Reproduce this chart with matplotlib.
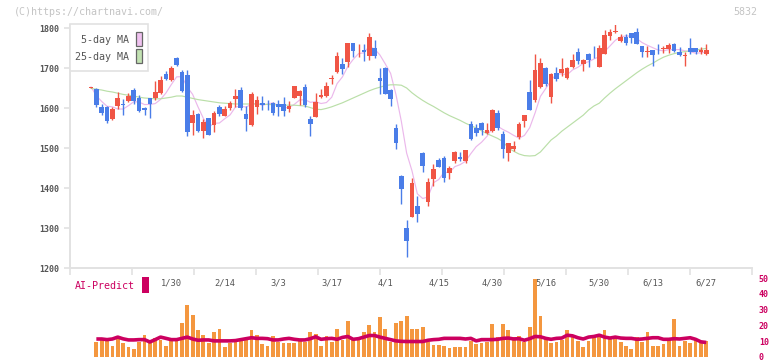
import numpy as np
import pandas as pd
import matplotlib
matplotlib.use("Agg")
import matplotlib.pyplot as plt
from matplotlib.patches import Rectangle
from matplotlib.transforms import blended_transform_factory

# daily candles, oldest first (price in yen)
opens = [1651, 1648, 1602, 1602, 1572, 1605, 1610, 1618, 1644, 1626,
         1601, 1624, 1624, 1638, 1685, 1670, 1724, 1690, 1683, 1563,
         1585, 1543, 1574, 1558, 1602, 1581, 1599, 1622, 1645, 1585,
         1557, 1603, 1613, 1616, 1612, 1610, 1610, 1598, 1625, 1631,
         1653, 1572, 1578, 1627, 1631, 1672, 1691, 1710, 1716, 1762,
         1744, 1746, 1730, 1750, 1676, 1701, 1645, 1550, 1430, 1301,
         1328, 1355, 1488, 1366, 1422, 1470, 1476, 1438, 1468, 1478,
         1468, 1560, 1550, 1562, 1538, 1543, 1587, 1535, 1488, 1498,
         1528, 1568, 1640, 1620, 1652, 1699, 1627, 1688, 1688, 1676,
         1703, 1740, 1710, 1735, 1735, 1703, 1735, 1781, 1790, 1767,
         1777, 1787, 1789, 1755, 1741, 1745, 1748, 1748, 1748, 1760,
         1741, 1730, 1749, 1749, 1739, 1734]
highs = [1653, 1650, 1610, 1604, 1602, 1640, 1623, 1637, 1651, 1632,
         1603, 1625, 1668, 1680, 1693, 1706, 1727, 1695, 1695, 1595,
         1587, 1573, 1576, 1593, 1607, 1606, 1617, 1647, 1653, 1605,
         1641, 1631, 1630, 1620, 1614, 1620, 1627, 1617, 1656, 1646,
         1660, 1581, 1637, 1647, 1666, 1682, 1741, 1726, 1763, 1763,
         1759, 1759, 1788, 1770, 1701, 1702, 1647, 1560, 1432, 1320,
         1424, 1380, 1489, 1424, 1460, 1475, 1480, 1456, 1492, 1490,
         1495, 1567, 1561, 1565, 1562, 1597, 1594, 1543, 1513, 1517,
         1565, 1583, 1670, 1735, 1724, 1702, 1688, 1702, 1724, 1703,
         1735, 1750, 1722, 1737, 1755, 1758, 1796, 1797, 1810, 1784,
         1785, 1788, 1799, 1756, 1755, 1746, 1760, 1756, 1762, 1763,
         1752, 1741, 1775, 1750, 1752, 1760]
lows = [1651, 1602, 1583, 1563, 1570, 1598, 1583, 1615, 1611, 1590,
        1582, 1576, 1620, 1634, 1670, 1668, 1704, 1640, 1530, 1532,
        1540, 1524, 1532, 1541, 1580, 1579, 1596, 1603, 1595, 1543,
        1555, 1585, 1595, 1595, 1583, 1581, 1581, 1591, 1624, 1607,
        1603, 1530, 1577, 1624, 1627, 1660, 1687, 1685, 1703, 1728,
        1728, 1717, 1720, 1724, 1635, 1634, 1605, 1497, 1360, 1228,
        1327, 1316, 1441, 1355, 1406, 1452, 1416, 1422, 1463, 1468,
        1462, 1520, 1529, 1532, 1535, 1541, 1544, 1476, 1468, 1493,
        1523, 1553, 1595, 1615, 1650, 1655, 1613, 1667, 1681, 1672,
        1700, 1709, 1693, 1703, 1724, 1702, 1734, 1770, 1787, 1766,
        1757, 1763, 1760, 1728, 1728, 1706, 1734, 1738, 1737, 1740,
        1730, 1705, 1734, 1734, 1734, 1733]
closes = [1653, 1608, 1588, 1568, 1598, 1625, 1608, 1630, 1618, 1593,
          1594, 1610, 1640, 1670, 1673, 1699, 1707, 1643, 1539, 1582,
          1543, 1564, 1533, 1587, 1585, 1597, 1612, 1631, 1599, 1572,
          1635, 1620, 1608, 1614, 1588, 1603, 1593, 1606, 1655, 1643,
          1607, 1560, 1614, 1632, 1655, 1674, 1730, 1698, 1762, 1743,
          1746, 1741, 1778, 1730, 1668, 1635, 1622, 1513, 1398, 1268,
          1413, 1335, 1455, 1416, 1447, 1453, 1426, 1451, 1490, 1472,
          1495, 1522, 1538, 1545, 1545, 1595, 1549, 1497, 1512, 1505,
          1560, 1582, 1595, 1695, 1713, 1659, 1685, 1672, 1698, 1701,
          1720, 1718, 1720, 1720, 1734, 1750, 1782, 1789, 1791, 1777,
          1763, 1776, 1761, 1741, 1743, 1733, 1747, 1750, 1757, 1743,
          1733, 1732, 1739, 1739, 1746, 1745]

# 25-day moving average as drawn on the chart
ma25 = [1649, 1647, 1645, 1642, 1640, 1637, 1634, 1632, 1630, 1627,
        1625, 1624, 1623, 1623, 1625, 1627, 1630, 1630, 1627, 1624,
        1621, 1619, 1617, 1615, 1613, 1612, 1611, 1610, 1610, 1610,
        1610, 1610, 1609, 1609, 1608, 1608, 1607, 1607, 1607, 1606,
        1605, 1601, 1597, 1596, 1599, 1603, 1608, 1613, 1619, 1625,
        1631, 1637, 1643, 1648, 1652, 1656, 1658, 1658, 1657, 1650,
        1638, 1628, 1619, 1611, 1604, 1596, 1588, 1581, 1575, 1569,
        1562, 1556, 1550, 1543, 1536, 1530, 1524, 1516, 1500, 1492,
        1485, 1481, 1480, 1481, 1490, 1505, 1520, 1530, 1542, 1552,
        1562, 1572, 1582, 1595, 1605, 1612, 1625, 1637, 1648, 1658,
        1668, 1678, 1688, 1697, 1705, 1712, 1720, 1727, 1732, 1736,
        1739, 1741, 1743, 1745, 1747, 1749]

# volume pane (first candle has no bar)
volume = [np.nan, 9.7, 10.8, 10.8, 7.0, 11.6, 8.9, 6.5, 5.1, 9.7,
          13.9, 9.7, 11.8, 10.8, 7.0, 11.8, 10.8, 21.7, 32.9, 26.6,
          17.1, 13.9, 9.1, 16.0, 17.7, 6.5, 8.6, 9.7, 10.8, 11.8,
          17.1, 13.9, 8.2, 7.0, 13.3, 9.7, 8.6, 9.1, 9.1, 10.8,
          9.7, 16.0, 14.6, 7.0, 13.3, 9.7, 17.7, 10.8, 22.8, 10.8,
          11.8, 16.0, 20.3, 16.0, 25.5, 17.7, 9.7, 21.3, 22.8, 25.9,
          17.7, 17.7, 19.2, 9.7, 7.6, 7.6, 7.0, 5.5, 6.1, 6.1,
          6.1, 10.3, 8.2, 9.1, 9.7, 20.9, 12.4, 20.9, 17.1, 12.4,
          13.3, 9.7, 18.8, 49.2, 25.9, 12.4, 9.1, 9.7, 10.8, 17.1,
          12.9, 10.3, 6.5, 10.3, 13.3, 14.0, 17.1, 12.4, 12.4, 9.7,
          7.0, 4.9, 12.9, 9.7, 16.0, 7.0, 7.0, 8.2, 10.8, 23.8,
          7.0, 10.3, 8.6, 10.8, 10.3, 10.1]
ai_predict = [np.nan, 11.4, 11.4, 11.0, 11.4, 12.6, 11.5, 10.8, 10.8, 11.0,
              11.0, 9.5, 11.0, 12.6, 11.8, 11.0, 11.0, 11.8, 12.6, 11.4,
              10.6, 10.8, 10.8, 10.2, 10.2, 10.2, 10.2, 10.4, 11.0, 11.6,
              12.2, 11.8, 11.8, 11.6, 10.8, 10.8, 11.4, 11.8, 11.2, 10.8,
              10.8, 11.6, 12.8, 11.2, 11.6, 11.8, 11.2, 12.4, 13.0, 11.2,
              11.6, 12.6, 13.6, 13.6, 12.6, 11.8, 11.0, 10.2, 9.9, 9.8,
              9.8, 9.8, 9.8, 10.6, 11.0, 11.2, 11.8, 11.8, 11.8, 11.8,
              11.4, 11.8, 10.2, 11.0, 11.0, 11.0, 11.2, 11.8, 12.0, 11.4,
              11.6, 10.6, 11.6, 13.0, 12.8, 11.8, 11.2, 11.8, 12.0, 13.8,
              13.4, 12.2, 11.4, 12.6, 13.0, 13.8, 12.6, 12.0, 12.6, 12.0,
              11.8, 11.8, 11.2, 11.4, 11.8, 12.2, 12.2, 11.2, 11.2, 11.6,
              11.4, 11.8, 12.2, 11.2, 9.6, 9.2]

date_labels = ["1/30", "2/14", "3/3", "3/17", "4/1", "4/15",
               "4/30", "5/16", "5/30", "6/13", "6/27"]
date_index = [15, 25, 35, 45, 55, 65, 75, 85, 95, 105, 115]

W, H = 772, 361
UP, DOWN = "#f05545", "#4a7de8"
GRID = "#e2e2e2"
MONO = "DejaVu Sans Mono"

fig = plt.figure(figsize=(W / 100, H / 100), dpi=100)


def px_axes(left, top, right, bottom):
    return fig.add_axes([left / W, 1 - bottom / H, (right - left) / W, (bottom - top) / H])


# pixel position of candle 0 is 91, one candle every 5.35 px
x0, x1 = (70 - 91) / 5.35, (752 - 91) / 5.35
idx = np.arange(len(closes))
o, h, l, c = map(np.array, (opens, highs, lows, closes))
colors = np.where(c >= o, UP, DOWN)

ax = px_axes(70, 25, 752, 268)
ax.vlines(idx, l, h, colors=colors, linewidth=1.0, zorder=3)
ax.bar(idx, np.maximum(np.abs(c - o), 1.5), bottom=np.minimum(o, c), width=0.86,
       color=colors, linewidth=0, zorder=4)

ma5 = pd.Series(closes).rolling(5, min_periods=1).mean()
ax.plot(idx, ma5, color="#ebb8eb", linewidth=0.85, zorder=2)
ax.plot(idx, ma25, color="#badfa8", linewidth=0.85, zorder=2)

ax.set_xlim(x0, x1)
ax.set_ylim(1200, 1807.5)
ax.set_yticks(range(1200, 1801, 100))
ax.set_xticks(np.linspace(x0, x1, 12))
ax.set_xticklabels([])
for side in ("top", "right"):
    ax.spines[side].set_visible(False)
for side in ("left", "bottom"):
    ax.spines[side].set_color(GRID)
    ax.spines[side].set_linewidth(1.4)
ax.tick_params(axis="y", colors=GRID, length=4, width=1.2, pad=4,
               labelcolor="#555555", labelsize=6)
ax.tick_params(axis="x", colors=GRID, length=5, width=1.2)
for t in ax.get_yticklabels():
    t.set_fontfamily(MONO)
    t.set_fontweight("bold")

date_tr = blended_transform_factory(ax.transData, fig.transFigure)
for i, lab in zip(date_index, date_labels):
    ax.text(i, 1 - 283 / H, lab, transform=date_tr, ha="center", va="center",
            fontsize=6.3, color="#555555", family=MONO)

# volume and AI-predict pane
vx = px_axes(70, 278, 752, 357)
vol = np.array(volume, dtype=float)
vx.bar(idx, np.nan_to_num(vol), width=0.7, color="#f4973f", linewidth=0)
vx.plot(idx, ai_predict, color="#cc0060", linewidth=2.6, solid_capstyle="butt")
vx.set_xlim(x0, x1)
vx.set_ylim(0, 50)
vx.set_xticks([])
vx.set_yticks(range(0, 51, 10))
for s in vx.spines.values():
    s.set_visible(False)
vx.yaxis.tick_right()
vx.tick_params(axis="y", length=0, pad=5, labelcolor="#cc0060", labelsize=6)
for t in vx.get_yticklabels():
    t.set_fontfamily(MONO)
    t.set_fontweight("bold")
vx.patch.set_alpha(0)

# decorations in pixel coordinates
deco = fig.add_axes([0, 0, 1, 1])
deco.set_xlim(0, W)
deco.set_ylim(H, 0)
deco.axis("off")
deco.text(14, 12, "(C)https://chartnavi.com/", fontsize=7.2, color="#c4c4c4",
          family=MONO, va="center", ha="left")
deco.text(757, 12, "5832", fontsize=7.2, color="#c4c4c4", family=MONO,
          va="center", ha="right")
deco.add_patch(Rectangle((70, 24), 78, 47, facecolor="white", edgecolor=GRID,
                         linewidth=1.2, zorder=5))
deco.text(129, 40, "5-day MA", fontsize=7.2, color="#555555", family=MONO,
          ha="right", va="center", zorder=6)
deco.text(129, 57, "25-day MA", fontsize=7.2, color="#555555", family=MONO,
          ha="right", va="center", zorder=6)
deco.add_patch(Rectangle((136, 32), 6, 14, facecolor="#f0c2f0", edgecolor="#666666",
                         linewidth=0.9, zorder=6))
deco.add_patch(Rectangle((136, 49), 6, 14, facecolor="#c2e2b2", edgecolor="#666666",
                         linewidth=0.9, zorder=6))
deco.text(75, 286, "AI-Predict", fontsize=7.2, color="#cc0060", family=MONO,
          ha="left", va="center")
deco.add_patch(Rectangle((142, 277), 7, 16, facecolor="#cc0060", edgecolor="none"))

fig.savefig("out.png", dpi=100)
